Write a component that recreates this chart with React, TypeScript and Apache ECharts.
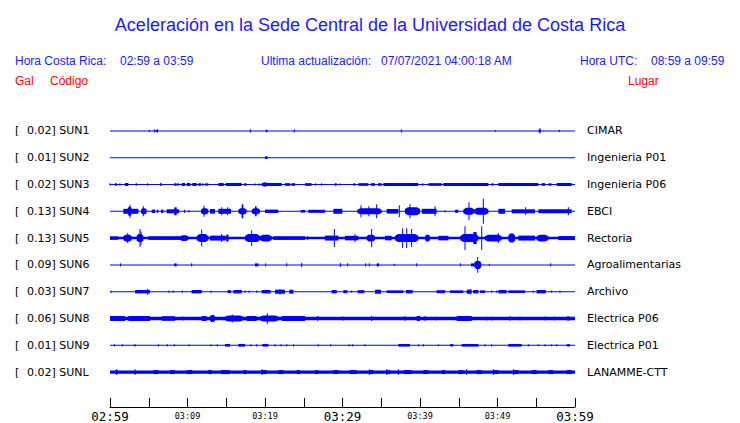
import React, { useEffect, useRef } from 'react';
import * as echarts from 'echarts';

const STATIONS = ['SUN1', 'SUN2', 'SUN3', 'SUN4', 'SUN5', 'SUN6', 'SUN7', 'SUN8', 'SUN9', 'SUNL'];
const PEAKS = ['0.02', '0.01', '0.02', '0.13', '0.13', '0.09', '0.03', '0.06', '0.01', '0.02'];
const PLACES = ['CIMAR', 'Ingenieria P01', 'Ingenieria P06', 'EBCI', 'Rectoria', 'Agroalimentarias', 'Archivo', 'Electrica P06', 'Electrica P01', 'LANAMME-CTT'];
const TICK_LABELS = ['02:59', '03:09', '03:19', '03:29', '03:39', '03:49', '03:59'];
// baseline noise half-amplitude (Gal)
const BASE = [0.005, 0.005, 0.005, 0.005, 0.013, 0.005, 0.005, 0.017, 0.005, 0.016];

// [startMinute, endMinute, halfAmplitude (Gal)]
const SUN1 = [[5.08, 5.08, 0.012], [5.72, 5.72, 0.018], [5.9, 6.11, 0.012], [6.11, 6.11, 0.018], [18.11, 18.11, 0.016], [20.09, 20.3, 0.014], [23.78, 23.78, 0.016], [37.59, 37.59, 0.016], [49.72, 49.72, 0.01], [55.3, 55.6, 0.014], [55.48, 55.48, 0.028], [57.98, 57.98, 0.012]];
const SUN2 = [[20.0, 20.34, 0.014]];
const SUN3 = [[0.0, 0.1, 0.014], [0.65, 0.9, 0.014], [1.29, 1.29, 0.012], [1.94, 2.37, 0.016], [3.31, 3.48, 0.012], [4.86, 4.86, 0.012], [6.45, 6.67, 0.014], [8.3, 8.6, 0.014], [8.73, 8.9, 0.014], [9.25, 9.68, 0.016], [9.89, 10.37, 0.016], [10.62, 11.18, 0.016], [11.4, 11.74, 0.014], [11.96, 11.96, 0.012], [12.26, 12.69, 0.012], [13.98, 14.67, 0.016], [14.92, 16.99, 0.016], [17.33, 17.59, 0.014], [18.71, 18.71, 0.012], [19.23, 19.23, 0.012], [19.57, 22.15, 0.016], [19.8, 20.2, 0.022], [22.58, 23.27, 0.014], [23.44, 23.87, 0.014], [25.16, 26.02, 0.014], [26.54, 26.54, 0.012], [27.31, 27.31, 0.012], [29.03, 29.25, 0.014], [29.68, 29.68, 0.01], [31.4, 31.61, 0.012], [32.04, 33.33, 0.014], [33.68, 34.19, 0.014], [34.6, 35.05, 0.014], [35.27, 39.78, 0.016], [40.22, 40.43, 0.012], [41.08, 42.8, 0.014], [43.01, 48.82, 0.016], [49.25, 49.46, 0.014], [50.11, 55.27, 0.016], [55.7, 56.13, 0.014], [56.56, 56.99, 0.012], [57.63, 59.57, 0.016]];
const SUN4 = [[1.72, 3.66, 0.026], [2.28, 2.8, 0.047], [2.58, 2.58, 0.068], [4.0, 4.73, 0.031], [4.3, 4.39, 0.052], [5.38, 5.81, 0.018], [6.02, 6.24, 0.016], [6.58, 6.88, 0.018], [7.31, 8.9, 0.021], [8.3, 8.6, 0.042], [9.55, 9.68, 0.016], [10.19, 10.19, 0.012], [11.74, 12.69, 0.031], [12.13, 12.13, 0.057], [12.9, 13.55, 0.024], [13.98, 15.61, 0.026], [14.41, 14.41, 0.042], [15.18, 15.27, 0.042], [16.56, 17.63, 0.031], [16.99, 17.2, 0.073], [18.28, 19.35, 0.031], [18.71, 18.92, 0.052], [20.0, 21.72, 0.018], [24.6, 25.16, 0.014], [25.59, 27.74, 0.016], [28.82, 29.98, 0.026], [31.91, 35.05, 0.031], [32.39, 32.39, 0.063], [33.33, 33.46, 0.052], [34.41, 34.41, 0.073], [35.7, 37.2, 0.024], [37.33, 37.33, 0.063], [38.06, 40.0, 0.042], [38.71, 38.71, 0.073], [40.22, 42.15, 0.026], [41.94, 41.94, 0.052], [43.23, 43.23, 0.012], [44.52, 44.95, 0.016], [45.59, 47.01, 0.036], [46.32, 46.32, 0.094], [47.01, 48.82, 0.036], [48.17, 48.17, 0.13], [50.11, 50.97, 0.026], [51.83, 54.84, 0.021], [53.63, 53.63, 0.042], [55.27, 59.57, 0.021], [59.14, 59.14, 0.042]];
const SUN5 = [[0, 1.08, 0.018], [1.72, 2.8, 0.036], [2.28, 2.28, 0.052], [3.44, 4.3, 0.042], [3.87, 3.87, 0.094], [4.0, 4.1, 0.07], [4.95, 9.03, 0.019], [9.03, 10.11, 0.031], [11.18, 12.69, 0.042], [11.83, 11.83, 0.089], [12.9, 14.92, 0.026], [14.41, 14.41, 0.042], [15.0, 15.3, 0.036], [17.42, 19.35, 0.042], [18.28, 18.28, 0.083], [19.35, 20.86, 0.036], [21.08, 25.16, 0.019], [25.51, 25.51, 0.021], [27.74, 29.46, 0.026], [28.95, 28.95, 0.094], [30.32, 32.04, 0.024], [31.61, 31.61, 0.042], [33.12, 34.19, 0.036], [33.76, 33.76, 0.094], [35.48, 36.34, 0.024], [36.77, 39.78, 0.042], [37.76, 37.76, 0.104], [38.28, 38.28, 0.104], [38.92, 38.92, 0.094], [40.65, 41.29, 0.036], [42.37, 43.66, 0.024], [45.2, 47.53, 0.042], [45.81, 45.81, 0.125], [46.88, 47.31, 0.063], [47.96, 47.96, 0.125], [48.39, 50.54, 0.036], [50.11, 50.11, 0.052], [51.4, 52.26, 0.047], [52.69, 54.84, 0.026], [55.05, 56.56, 0.036], [57.85, 60, 0.021]];
const SUN6 = [[1.29, 1.42, 0.016], [8.3, 8.6, 0.016], [10.54, 10.62, 0.016], [18.71, 19.15, 0.016], [20.09, 20.09, 0.016], [22.8, 22.8, 0.016], [24.73, 24.73, 0.021], [29.72, 29.72, 0.021], [30.67, 30.67, 0.016], [32.99, 32.99, 0.016], [33.46, 33.46, 0.016], [34.41, 34.71, 0.016], [36.69, 36.69, 0.012], [39.57, 39.57, 0.016], [45.2, 45.2, 0.016], [46.58, 47.01, 0.016], [47.01, 47.9, 0.042], [47.44, 47.44, 0.083], [48.95, 48.95, 0.012], [56.86, 56.86, 0.016]];
const SUN7 = [[0.13, 0.13, 0.012], [3.23, 5.16, 0.018], [4.86, 4.86, 0.031], [7.61, 7.61, 0.012], [8.17, 8.17, 0.012], [9.33, 9.33, 0.012], [10.54, 11.83, 0.018], [13.03, 13.03, 0.012], [15.18, 15.61, 0.016], [15.91, 16.99, 0.018], [17.42, 17.42, 0.012], [17.94, 17.94, 0.012], [18.92, 18.92, 0.012], [19.57, 20.73, 0.018], [21.29, 22.58, 0.021], [21.94, 21.94, 0.028], [23.14, 23.66, 0.021], [28.6, 29.25, 0.018], [30.11, 30.62, 0.016], [31.18, 31.18, 0.012], [31.96, 32.82, 0.016], [34.19, 34.97, 0.021], [35.7, 37.85, 0.014], [38.19, 39.05, 0.018], [42.15, 43.23, 0.016], [43.87, 45.59, 0.014], [46.02, 46.67, 0.021], [46.45, 46.45, 0.028], [46.88, 47.53, 0.018], [47.74, 48.39, 0.014], [49.25, 49.25, 0.012], [49.89, 49.89, 0.012], [50.11, 51.18, 0.018], [51.4, 53.55, 0.014], [54.62, 54.62, 0.012], [55.05, 56.22, 0.018], [56.99, 56.99, 0.012], [58.06, 58.06, 0.012]];
const SUN8 = [[0, 1.94, 0.026], [2.37, 5.16, 0.026], [6.67, 8.39, 0.024], [9.46, 9.46, 0.021], [11.83, 12.47, 0.026], [12.9, 13.55, 0.036], [14.84, 17.2, 0.031], [15.78, 15.78, 0.042], [17.63, 18.92, 0.026], [19.35, 21.72, 0.031], [20.3, 20.3, 0.055], [22.15, 25.16, 0.026], [26.8, 26.8, 0.026], [30.11, 30.11, 0.021], [33.76, 33.76, 0.026], [38.06, 38.06, 0.026], [39.57, 40.0, 0.026], [40.65, 40.65, 0.026], [42.06, 42.06, 0.021], [44.73, 46.67, 0.026], [48.6, 48.6, 0.021], [49.25, 49.25, 0.021], [51.61, 51.61, 0.024], [52.9, 52.9, 0.021], [56.13, 56.13, 0.021], [57.33, 57.33, 0.021], [58.92, 59.35, 0.021]];
const SUN9 = [[0.56, 0.56, 0.012], [1.59, 1.59, 0.012], [3.23, 3.23, 0.014], [6.24, 6.24, 0.012], [7.4, 7.4, 0.012], [8.3, 8.3, 0.012], [10.19, 10.19, 0.01], [13.03, 13.03, 0.01], [13.85, 13.85, 0.012], [14.84, 15.48, 0.014], [16.56, 17.42, 0.014], [18.19, 18.19, 0.012], [18.92, 18.92, 0.012], [19.66, 20.43, 0.014], [21.29, 21.29, 0.012], [22.06, 22.06, 0.012], [22.8, 22.8, 0.012], [23.7, 23.7, 0.012], [26.88, 26.88, 0.012], [28.47, 28.47, 0.012], [30.84, 30.84, 0.012], [31.27, 31.27, 0.012], [32.9, 32.9, 0.01], [37.2, 38.71, 0.014], [39.78, 39.78, 0.012], [40.43, 40.43, 0.012], [42.37, 42.37, 0.01], [43.87, 44.3, 0.012], [45.38, 47.53, 0.014], [48.39, 48.39, 0.012], [49.25, 49.25, 0.012], [51.4, 53.12, 0.014], [53.98, 53.98, 0.012], [55.27, 55.27, 0.01], [56.13, 56.13, 0.012], [56.99, 56.99, 0.01], [57.63, 57.63, 0.01], [58.92, 59.35, 0.012]];
const SUNL = [[0.7, 1.0, 0.021], [0.86, 0.86, 0.031], [3.23, 3.23, 0.031], [5.59, 6.24, 0.021], [7.74, 8.39, 0.021], [9.89, 10.62, 0.021], [12.69, 13.12, 0.021], [14.32, 15.48, 0.021], [17.2, 17.63, 0.021], [19.57, 20.22, 0.021], [19.6, 19.6, 0.031], [21.72, 22.37, 0.021], [24.09, 24.52, 0.021], [26.45, 26.88, 0.021], [28.82, 29.46, 0.021], [30.97, 31.83, 0.021], [33.46, 33.98, 0.021], [33.46, 33.46, 0.031], [35.7, 36.13, 0.021], [35.7, 35.7, 0.031], [37.2, 37.2, 0.031], [37.94, 38.92, 0.021], [40.43, 41.08, 0.021], [42.8, 43.23, 0.021], [44.95, 45.59, 0.021], [46.02, 46.02, 0.031], [47.31, 47.96, 0.021], [49.46, 50.11, 0.021], [49.46, 49.46, 0.031], [52.04, 52.69, 0.021], [52.04, 52.04, 0.031], [54.41, 55.05, 0.021], [56.56, 57.2, 0.021], [58.92, 59.57, 0.021]];

const EVENTS = [SUN1, SUN2, SUN3, SUN4, SUN5, SUN6, SUN7, SUN8, SUN9, SUNL];
const DURATION_MIN = 60;
const LANE_GAL = 0.28; // Gal spanned by one trace lane

const BLUE = '#0000ff';

export default function App() {
  const ref = useRef<HTMLDivElement>(null);
  useEffect(() => {
    if (!ref.current) return;
    const chart = echarts.init(ref.current, null, { renderer: 'svg' });

    const data: number[][] = [];
    STATIONS.forEach((_, i) => {
      data.push([0, i, DURATION_MIN, BASE[i], 1]);
      EVENTS[i].forEach((e) => data.push([e[0], i, e[1], e[2], 0]));
    });

    const headerFont = { fontFamily: 'Liberation Sans', fontSize: 12, fill: '#1a1aff' };
    const redFont = { fontFamily: 'Liberation Sans', fontSize: 12, fill: '#ff0000' };

    chart.setOption({
      animation: false,
      backgroundColor: '#ffffff',
      title: {
        text: 'Aceleración en la Sede Central de la Universidad de Costa Rica',
        left: 'center',
        top: 11,
        textStyle: { fontFamily: 'Liberation Sans', fontSize: 18, fontWeight: 'normal', color: '#1a1aff' },
      },
      graphic: [
        { type: 'text', left: 15, top: 55, style: { text: 'Hora Costa Rica:', ...headerFont } },
        { type: 'text', left: 120, top: 55, style: { text: '02:59 a 03:59', ...headerFont } },
        { type: 'text', left: 261, top: 55, style: { text: 'Ultima actualización:', ...headerFont } },
        { type: 'text', left: 381, top: 55, style: { text: '07/07/2021 04:00:18 AM', ...headerFont } },
        { type: 'text', left: 580, top: 55, style: { text: 'Hora UTC:', ...headerFont } },
        { type: 'text', left: 651, top: 55, style: { text: '08:59 a 09:59', ...headerFont } },
        { type: 'text', left: 15, top: 75, style: { text: 'Gal', ...redFont } },
        { type: 'text', left: 50, top: 75, style: { text: 'Código', ...redFont } },
        { type: 'text', left: 628, top: 75, style: { text: 'Lugar', ...redFont } },
      ],
      grid: { left: 110, right: 165, top: 117.5, height: 270 },
      xAxis: {
        type: 'value',
        min: 0,
        max: DURATION_MIN,
        interval: 5,
        offset: 21.5,
        splitLine: { show: false },
        axisLine: { show: true, lineStyle: { color: '#000', width: 1 } },
        axisTick: { show: true, inside: true, length: 9, lineStyle: { color: '#000' } },
        axisLabel: {
          margin: 2,
          showMinLabel: true,
          showMaxLabel: true,
          formatter: (v: number) => {
            if (v % 10 !== 0) return '';
            const lbl = TICK_LABELS[v / 10];
            return v % 30 === 0 ? `{big|${lbl}}` : `{small|${lbl}}`;
          },
          rich: {
            big: { fontFamily: 'DejaVu Sans Mono', fontSize: 12.5, color: '#000', padding: [1, 0, 0, 0] },
            small: { fontFamily: 'DejaVu Sans Mono', fontSize: 8.5, color: '#000', padding: [2, 0, 0, 0] },
          },
        },
      },
      yAxis: [
        {
          type: 'category',
          data: STATIONS,
          inverse: true,
          axisLine: { show: false },
          axisTick: { show: false },
          splitLine: { show: false },
          axisLabel: {
            margin: 95,
            align: 'left',
            formatter: (_v: string, i: number) => `{a|[}{b|${PEAKS[i]}] ${STATIONS[i]}}`,
            rich: {
              a: { width: 12, fontFamily: 'DejaVu Sans', fontSize: 11, color: '#000' },
              b: { fontFamily: 'DejaVu Sans', fontSize: 11, color: '#000' },
            },
          },
        },
        {
          type: 'category',
          data: PLACES,
          inverse: true,
          position: 'right',
          axisLine: { show: false },
          axisTick: { show: false },
          splitLine: { show: false },
          axisLabel: { margin: 12, fontFamily: 'DejaVu Sans', fontSize: 11, color: '#000' },
        },
      ],
      series: [
        {
          type: 'custom',
          yAxisIndex: 0,
          clip: false,
          data,
          encode: { x: [0, 2], y: 1 },
          renderItem: (_params: any, api: any) => {
            const s = api.value(0);
            const idx = api.value(1);
            const e = api.value(2);
            const a = api.value(3);
            const isBase = api.value(4) === 1;
            const p0 = api.coord([s, idx]);
            const p1 = api.coord([e, idx]);
            const lane = api.size([0, 1])[1];
            const h = Math.max(0.5, (a / LANE_GAL) * lane);
            const w0 = p1[0] - p0[0];
            const c = p0[1];
            if (isBase || w0 < 4 || h < 2.5) {
              const w = Math.max(1, w0);
              const x = w0 < 1 ? p0[0] - 0.5 : p0[0];
              return {
                type: 'rect',
                shape: { x, y: c - h, width: w, height: 2 * h },
                style: { fill: BLUE },
              };
            }
            // tapered burst envelope
            const x0 = p0[0];
            const x1 = p1[0];
            const r = Math.min(3, w0 * 0.25);
            const hs = h * 0.55;
            return {
              type: 'polygon',
              shape: {
                points: [
                  [x0, c - hs], [x0 + r, c - h], [x1 - r, c - h], [x1, c - hs],
                  [x1, c + hs], [x1 - r, c + h], [x0 + r, c + h], [x0, c + hs],
                ],
              },
              style: { fill: BLUE },
            };
          },
        },
      ],
    });
    return () => chart.dispose();
  }, []);
  return <div ref={ref} style={{ position: 'absolute', left: 0, top: 0, width: 740, height: 423 }} />;
}
